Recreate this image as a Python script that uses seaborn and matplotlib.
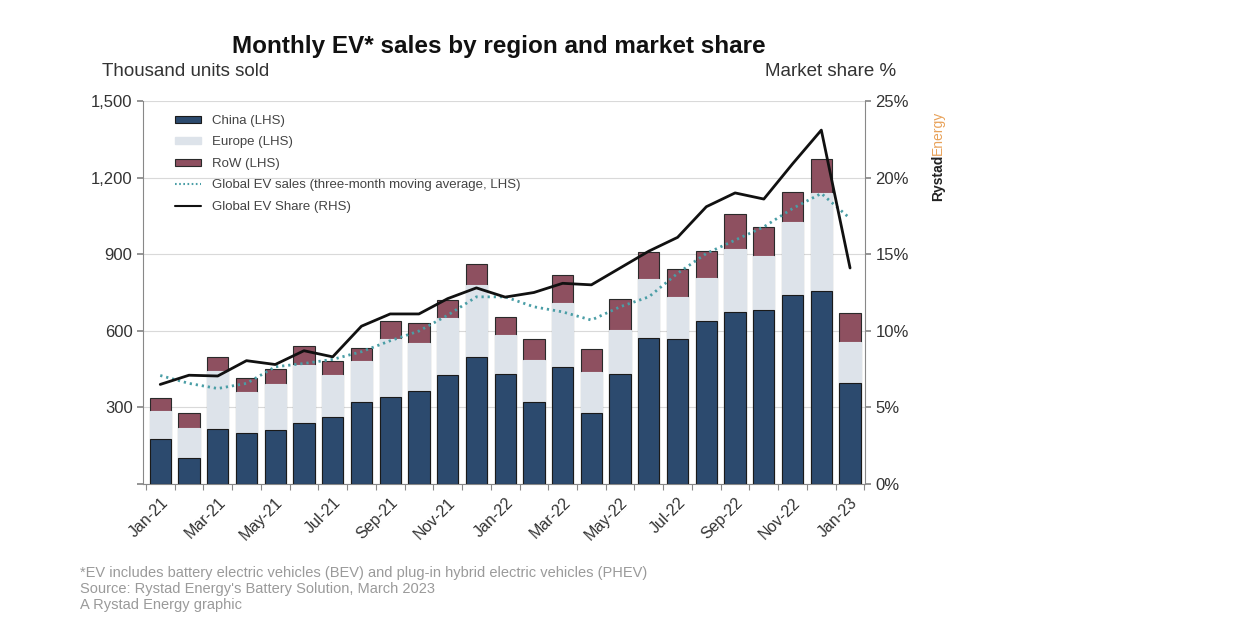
import numpy as np
import pandas as pd
import matplotlib
matplotlib.use("Agg")
import matplotlib.pyplot as plt
from matplotlib.patches import Patch
from matplotlib.lines import Line2D
import seaborn as sns

months = ["Jan-21", "Feb-21", "Mar-21", "Apr-21", "May-21", "Jun-21", "Jul-21", "Aug-21",
          "Sep-21", "Oct-21", "Nov-21", "Dec-21", "Jan-22", "Feb-22", "Mar-22", "Apr-22",
          "May-22", "Jun-22", "Jul-22", "Aug-22", "Sep-22", "Oct-22", "Nov-22", "Dec-22", "Jan-23"]
china = [176, 103, 217, 200, 210, 240, 261, 321, 342, 364, 428, 498, 430, 320, 458, 279,
         429, 570, 566, 638, 674, 681, 741, 754, 397]
europe = [110, 115, 227, 159, 180, 226, 166, 160, 227, 187, 224, 281, 153, 165, 252, 158,
          176, 231, 165, 167, 246, 211, 286, 386, 158]
row = [52, 61, 52, 55, 59, 74, 54, 50, 70, 78, 68, 82, 72, 81, 108, 91,
       119, 106, 110, 109, 139, 115, 115, 131, 116]
moving_avg = [425, 394, 374, 394, 459, 472, 488, 518, 561, 599, 661, 733, 733, 694, 674, 642,
              694, 733, 825, 903, 955, 1007, 1079, 1138, 1040]
ev_share = [6.5, 7.1, 7.05, 8.05, 7.8, 8.7, 8.3, 10.3, 11.1, 11.1, 12.1, 12.8, 12.2, 12.5,
            13.1, 13.0, 14.1, 15.2, 16.1, 18.1, 19.0, 18.6, 20.9, 23.1, 14.1]
left_ticks = [0, 300, 600, 900, 1200, 1500]
left_labels = ["", "300", "600", "900", "1,200", "1,500"]
right_ticks = [0, 5, 10, 15, 20, 25]
right_labels = ["0%", "5%", "10%", "15%", "20%", "25%"]

C_CHINA = "#2c4a6e"
C_EUROPE = "#dde3ea"
C_ROW = "#8e5060"
C_MA = "#4a9ea6"
C_GRID = "#d9d9d9"
C_TEXT = "#333333"

sns.set_theme(style="white")
FONT = ["Liberation Sans Narrow", "Liberation Sans", "DejaVu Sans"]
plt.rcParams["font.family"] = FONT

df = pd.DataFrame({"idx": np.arange(len(months)), "month": months,
                   "china": china, "europe": europe, "row": row,
                   "ma": moving_avg, "share": ev_share})
df["ce"] = df["china"] + df["europe"]
df["total"] = df["ce"] + df["row"]

fig = plt.figure(figsize=(12.58, 6.31), dpi=100)
ax = fig.add_axes([143 / 1258, 1 - 484 / 631, 722 / 1258, 383 / 631])

bw = 0.74
sns.barplot(data=df, x="idx", y="total", color=C_ROW, saturation=1, width=bw,
            edgecolor="#2a2a2a", linewidth=0.8, ax=ax, zorder=2)
sns.barplot(data=df, x="idx", y="ce", color=C_EUROPE, saturation=1, width=bw,
            edgecolor=C_EUROPE, linewidth=0.8, ax=ax, zorder=3)
sns.barplot(data=df, x="idx", y="china", color=C_CHINA, saturation=1, width=bw,
            edgecolor="#1a1a1a", linewidth=0.8, ax=ax, zorder=4)
sns.lineplot(data=df, x="idx", y="ma", color=C_MA, linestyle=(0, (0.8, 1.4)), linewidth=2.0,
             ax=ax, zorder=5)

ax.set_ylim(0, 1500)
ax.set_xlim(-0.6, 24.52)
ax.set_yticks(left_ticks)
ax.set_yticklabels(left_labels)
ax.yaxis.grid(True, color=C_GRID, linewidth=0.8)
ax.set_axisbelow(True)
ax.set_xticks(np.arange(0, 25, 2))
ax.set_xticklabels(months[::2], rotation=45, ha="right", rotation_mode="anchor")
ax.set_xticks(np.arange(-0.5, 25, 1), minor=True)
ax.tick_params(axis="x", which="major", length=0, pad=8, labelsize=11.5, labelcolor=C_TEXT)
ax.tick_params(axis="x", which="minor", length=4, color="#888888", width=0.8, bottom=True)
ax.tick_params(axis="y", length=4, color="#888888", labelsize=12, labelcolor=C_TEXT, left=True)
ax.set_xlabel("")
ax.set_ylabel("")
for s in ["top", "right"]:
    ax.spines[s].set_visible(False)
for s in ["left", "bottom"]:
    ax.spines[s].set_color("#888888")
    ax.spines[s].set_linewidth(0.8)

ax2 = ax.twinx()
sns.lineplot(data=df, x="idx", y="share", color="#111111", linewidth=2.0, ax=ax2, zorder=6)
ax2.set_ylim(0, 25)
ax2.set_xlim(-0.6, 24.52)
ax2.set_yticks(right_ticks)
ax2.set_yticklabels(right_labels)
ax2.set_ylabel("")
ax2.tick_params(axis="y", length=4, color="#888888", labelsize=12, labelcolor=C_TEXT, right=True)
for s in ["top", "left", "bottom"]:
    ax2.spines[s].set_visible(False)
ax2.spines["right"].set_color("#888888")
ax2.spines["right"].set_linewidth(0.8)

handles = [
    Patch(facecolor=C_CHINA, edgecolor="#1a1a1a", linewidth=0.8),
    Patch(facecolor=C_EUROPE, edgecolor=C_EUROPE),
    Patch(facecolor=C_ROW, edgecolor="#2a2a2a", linewidth=0.8),
    Line2D([0], [0], color=C_MA, linestyle=(0, (0.8, 1.2)), linewidth=1.5),
    Line2D([0], [0], color="#111111", linewidth=1.5),
]
labels = ["China (LHS)", "Europe (LHS)", "RoW (LHS)",
          "Global EV sales (three-month moving average, LHS)", "Global EV Share (RHS)"]
leg = ax2.legend(handles, labels, loc="upper left", bbox_to_anchor=(0.028, 0.995),
                 frameon=False, fontsize=9.5, handlelength=2.0, handleheight=0.45,
                 labelspacing=0.72, handletextpad=0.8, labelcolor="#444444")

fig.text(499 / 1258, 1 - 46 / 631, "Monthly EV* sales by region and market share",
         ha="center", va="center", fontsize=17.5, fontweight="bold", color="#111111")
fig.text(102 / 1258, 1 - 72 / 631, "Thousand units sold", ha="left", va="center",
         fontsize=13.5, color=C_TEXT)
fig.text(896 / 1258, 1 - 72 / 631, "Market share %", ha="right", va="center",
         fontsize=13.5, color=C_TEXT)

fig.text(938 / 1258, 1 - 201 / 631, "Rystad", rotation=90, ha="center", va="bottom",
         fontsize=10, fontweight="bold", color="#222222")
fig.text(938 / 1258, 1 - 155 / 631, "Energy", rotation=90, ha="center", va="bottom",
         fontsize=10, color="#e8a25a")

footer = ["*EV includes battery electric vehicles (BEV) and plug-in hybrid electric vehicles (PHEV)",
          "Source: Rystad Energy's Battery Solution, March 2023",
          "A Rystad Energy graphic"]
for i, line in enumerate(footer):
    fig.text(80 / 1258, 1 - (573 + 16 * i) / 631, line, ha="left", va="center",
             fontsize=10.5, color="#9a9a9a")

fig.savefig("out.png", dpi=100, facecolor="white")
